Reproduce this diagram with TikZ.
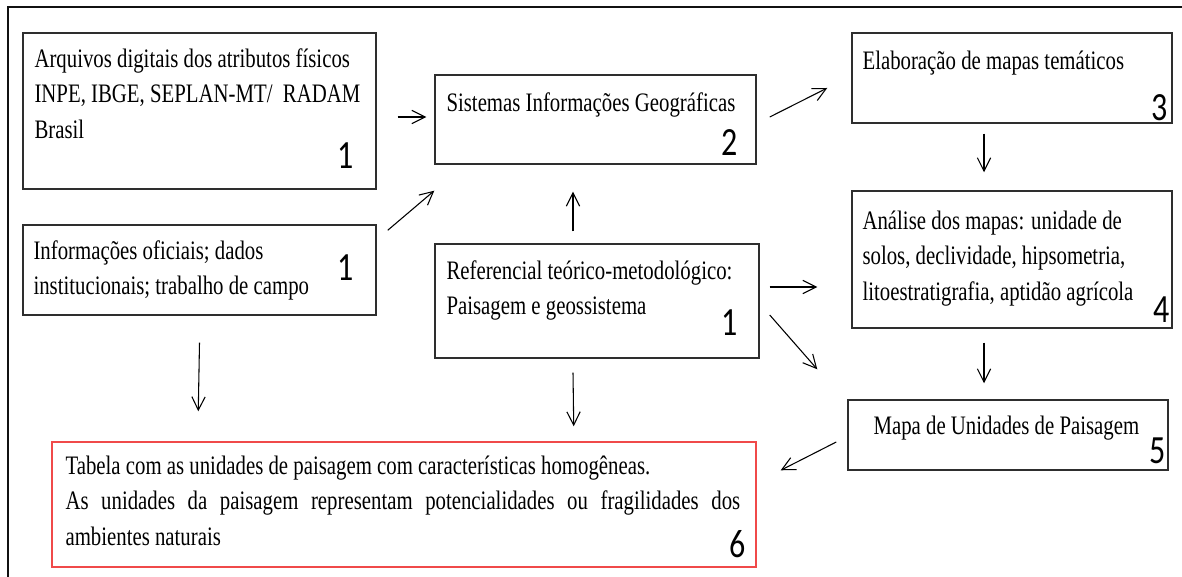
\documentclass[tikz,border=0pt]{standalone}
\usepackage{fontspec}
\setmainfont{Liberation Serif}[FakeStretch=0.78]
\newfontfamily\numfont{Carlito}[FakeStretch=0.8]
\usetikzlibrary{arrows.meta,fit}
\definecolor{FrameLine}{HTML}{111111}
\definecolor{BoxLine}{HTML}{2E2E2E}
\definecolor{TableRed}{HTML}{F04A4A}

\begin{document}
\begin{tikzpicture}[x=0.75pt,y=-0.75pt,
    caixa/.style={draw=BoxLine, line width=1.1pt, inner sep=0pt},
    texto/.style={anchor=base west, text width=300pt, align=flush left, inner sep=0pt, font=\fontsize{20}{26.6}\selectfont},
    numero/.style={anchor=base east, inner sep=0pt, font=\numfont\fontsize{30}{30}\selectfont},
    seta/.style={-{Straight Barb[length=10pt,width=10pt]}, line width=0.8pt}]
  \useasboundingbox (0,0) rectangle (1182,577);
  \draw[FrameLine, line width=2.2pt] (8,577) -- (8,7) -- (1182,7);

  % caixas
  \node[caixa, fit={(23,33) (376,189)}] (arq) {};
  \node[caixa, fit={(23,225) (376,315)}] (info) {};
  \node[caixa, fit={(435,75) (756,164)}] (sis) {};
  \node[caixa, fit={(435,244) (759,358)}] (ref) {};
  \node[caixa, fit={(852,33) (1172,123)}] (ela) {};
  \node[caixa, fit={(852,191) (1172,328)}] (ana) {};
  \node[caixa, fit={(848,400) (1168,470)}] (map) {};
  \node[caixa, draw=TableRed, fit={(52,442) (756,567)}] (tab) {};

  % textos
  \node[texto] (arqT) at ([shift={(12,35)}]arq.north west) {Arquivos digitais dos atributos físicos\\INPE, IBGE, SEPLAN-MT/ \ RADAM\\Brasil};
  \node[texto] (infoT) at ([shift={(11,35)}]info.north west) {Informações oficiais; dados\\institucionais; trabalho de campo};
  \node[texto] (sisT) at ([shift={(12,37)}]sis.north west) {Sistemas Informações Geográficas};
  \node[texto] (refT) at ([shift={(12,36)}]ref.north west) {Referencial teórico-metodológico:\\Paisagem e geossistema};
  \node[texto] (elaT) at ([shift={(11,37)}]ela.north west) {Elaboração de mapas temáticos};
  \node[texto] (anaT) at ([shift={(11,39)}]ana.north west) {Análise dos mapas: unidade de\\solos, declividade, hipsometria,\\litoestratigrafia, aptidão agrícola};
  \node[texto] (mapT) at ([shift={(26,35)}]map.north west) {Mapa de Unidades de Paisagem};
  \node[texto, text width=506pt, align=justify] (tabT) at ([shift={(14,33)}]tab.north west) {Tabela com as unidades de paisagem com características homogêneas.\\As unidades da paisagem representam potencialidades ou fragilidades dos\linebreak ambientes naturais};

  % numeros
  \node[numero] (arqN) at ([shift={(-23,-21)}]arq.south east) {1};
  \node[numero] (infoN) at ([shift={(-23,-35)}]info.south east) {1};
  \node[numero] (sisN) at ([shift={(-19,-9)}]sis.south east) {2};
  \node[numero] (refN) at ([shift={(-22,-23)}]ref.south east) {1};
  \node[numero] (elaN) at ([shift={(-5,-3)}]ela.south east) {3};
  \node[numero] (anaN) at ([shift={(-3,-6)}]ana.south east) {4};
  \node[numero] (mapN) at ([shift={(-3,-7)}]map.south east) {5};
  \node[numero] (tabN) at ([shift={(-11,-10)}]tab.south east) {6};

  % setas
  \draw[seta] ([shift={(21,6)}]arq.east) -- ([shift={(-8,-2.5)}]sis.west);
  \draw[seta] ([shift={(11,6)}]info.north east) -- ([shift={(0,26)}]sis.south west);
  \draw[seta] ([shift={(-24,-12)}]ref.north) -- ([shift={(-22.5,27)}]sis.south);
  \draw[seta] ([shift={(13,-2.5)}]sis.east) -- ([shift={(-24,10)}]ela.west);
  \draw[seta] ([shift={(10,-14)}]ref.east) -- ([shift={(-34,27.5)}]ana.west);
  \draw[seta] ([shift={(10,14)}]ref.east) -- ([shift={(-30,-30)}]map.north west);
  \draw[seta] ([shift={(-28,10)}]ela.south) -- ([shift={(-28,-18)}]ana.north);
  \draw[seta] ([shift={(-28,14)}]ana.south) -- ([shift={(-24,-16)}]map.north);
  \draw[seta] ([shift={(-11,7)}]map.west) -- ([shift={(24,29)}]tab.north east);
  \draw[seta] ([shift={(0,27)}]info.south) -- ([shift={(147,-30)}]tab.north west);
  \draw[seta] ([shift={(-24,14)}]ref.south) -- ([shift={(-183,-15)}]tab.north east);
\end{tikzpicture}
\end{document}
